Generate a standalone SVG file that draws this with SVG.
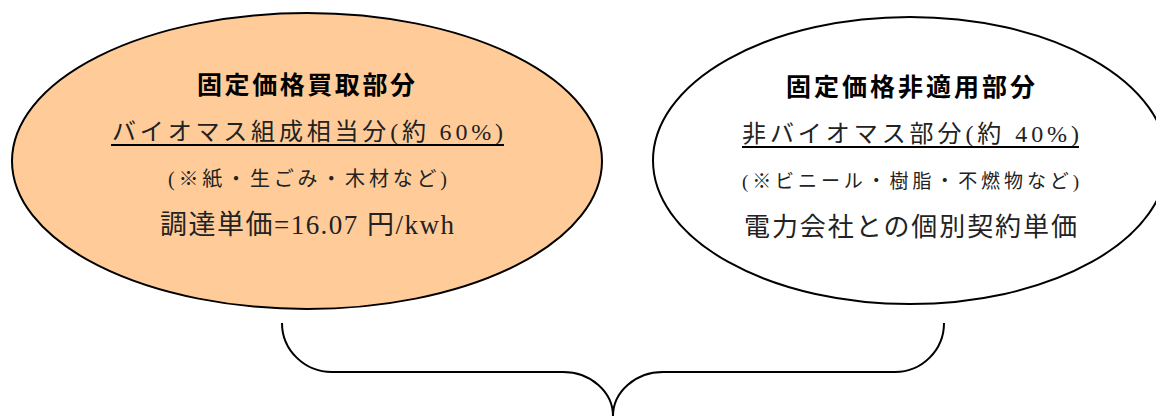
<svg xmlns="http://www.w3.org/2000/svg" width="1156" height="416" viewBox="0 0 1156 416">
<style>
.ell{stroke:#000;stroke-width:2}
.title{font-family:"Noto Sans CJK JP","Noto Sans",sans-serif;font-weight:bold;font-size:25px;fill:#000}
.body{font-family:"Liberation Serif","Noto Sans CJK JP",serif;fill:#222}
.ul{stroke:#000;stroke-width:2}
.brace{fill:none;stroke:#000;stroke-width:2}
</style>
<rect width="1156" height="416" fill="#fff"/>
<g id="node-fit">
<ellipse class="ell" cx="307" cy="161" rx="295" ry="148" fill="#FFCC99"/>
<text class="title" x="306" y="94" text-anchor="middle" textLength="218" lengthAdjust="spacing">固定価格買取部分</text>
<text class="body" x="307.5" y="140" font-size="24" text-anchor="middle" textLength="391" lengthAdjust="spacing">バイオマス組成相当分(約 60%)</text>
<line class="ul" x1="111" y1="145" x2="504" y2="145"/>
<text class="body" x="307.5" y="186" font-size="20" text-anchor="middle" textLength="279" lengthAdjust="spacing">(※紙・生ごみ・木材など)</text>
<text class="body" x="307" y="234" font-size="27" text-anchor="middle" textLength="294" lengthAdjust="spacing">調達単価=16.07 円/kwh</text>
</g>
<g id="node-nonfit">
<ellipse class="ell" cx="910" cy="160.5" rx="257" ry="143.5" fill="#fff"/>
<text class="title" x="910.5" y="96" text-anchor="middle" textLength="249" lengthAdjust="spacing">固定価格非適用部分</text>
<text class="body" x="910.5" y="142" font-size="24" text-anchor="middle" textLength="337" lengthAdjust="spacing">非バイオマス部分(約 40%)</text>
<line class="ul" x1="742" y1="147" x2="1079" y2="147"/>
<text class="body" x="910.5" y="188" font-size="19" text-anchor="middle" textLength="337" lengthAdjust="spacing">(※ビニール・樹脂・不燃物など)</text>
<text class="body" x="910.5" y="236" font-size="26" text-anchor="middle" textLength="333" lengthAdjust="spacing">電力会社との個別契約単価</text>
</g>
<g id="connectors">
<path class="brace" d="M282,323 A50,49 0 0 0 332,372 L563,372 A50,44 0 0 1 613,416 A50,44 0 0 1 663,372 L895,372 A49,49 0 0 0 944,323"/>
</g>
</svg>
